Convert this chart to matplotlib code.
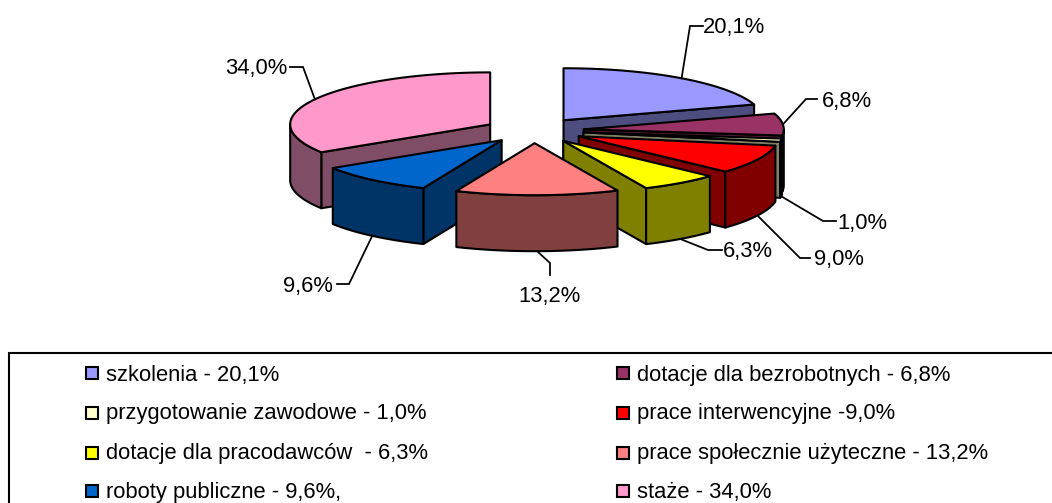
import numpy as np
import matplotlib
matplotlib.use("Agg")
import matplotlib.pyplot as plt
from matplotlib.patches import Polygon, Rectangle

plt.rcParams['font.family'] = ['Liberation Sans', 'DejaVu Sans']

# dane
shares = [20.1, 6.8, 1.0, 9.0, 6.3, 13.2, 9.6, 34.0]
legend_texts = ["szkolenia - 20,1%", "dotacje dla bezrobotnych - 6,8%",
                "przygotowanie zawodowe - 1,0%", "prace interwencyjne -9,0%",
                "dotacje dla pracodawców  - 6,3%", "prace społecznie użyteczne - 13,2%",
                "roboty publiczne - 9,6%,", "staże - 34,0%"]
top_colors = ["#9999FF", "#993366", "#FFFFCC", "#FF0000",
              "#FFFF00", "#FF8080", "#0066CC", "#FF99CC"]
side_colors = ["#4D4D80", "#4D1A33", "#808066", "#800000",
               "#808000", "#804040", "#003366", "#804D66"]

# geometria wykresu (piksele)
cx, cy = 534, 130.5
rx, ry = 200, 52
ex, ey = 50, 12.7
depth = 56
lw = 1.5
font_size = 15.8

# kolanko i koniec linii odniesienia, pozycja etykiety
elbows = [(690, 26), (806, 99), (823, 221), (800, 258), (708, 250), (550, 263), (349, 284), (303, 67)]
ends = [(703, 26), (817, 99), (836, 221), (810, 258), (722, 250), (550, 275), (337, 284), (290, 67)]
label_pos = [(703, 33), (822, 107), (837, 229), (814, 265), (723, 257), (550, 302), (333, 292), (287, 74)]
label_ha = ['left', 'left', 'left', 'left', 'left', 'center', 'right', 'right']

draw_order = [0, 1, 2, 3, 4, 7, 6, 5]

fig = plt.figure(figsize=(10.52, 5.03), dpi=100)
ax = fig.add_axes([0, 0, 1, 1])
ax.set_xlim(0, 1052)
ax.set_ylim(503, 0)
ax.axis('off')

edges = np.cumsum([0] + shares) / sum(shares) * 360


def rim(x0, y0, deg):
    t = np.radians(deg)
    return np.column_stack([x0 + rx * np.sin(t), y0 - ry * np.cos(t)])


centers = []
for i in range(len(shares)):
    mid = np.radians((edges[i] + edges[i + 1]) / 2)
    centers.append((cx + ex * np.sin(mid), cy - ey * np.cos(mid)))

for z, i in enumerate(draw_order):
    a0, a1 = edges[i], edges[i + 1]
    x0, y0 = centers[i]
    style = dict(edgecolor='black', linewidth=lw, joinstyle='round', zorder=2 + z)

    # sciany boczne przy srodku
    for ang, show in ((a0, np.sin(np.radians(a0)) < -1e-6), (a1, np.sin(np.radians(a1)) > 1e-6)):
        if show:
            p = rim(x0, y0, ang)[0]
            ax.add_patch(Polygon([(x0, y0), p, (p[0], p[1] + depth), (x0, y0 + depth)],
                                 facecolor=side_colors[i], **style))

    # sciana zewnetrzna
    w0, w1 = max(a0, 90), min(a1, 270)
    if w1 > w0:
        arc = rim(x0, y0, np.linspace(w0, w1, 40))
        low = arc[::-1] + [0, depth]
        ax.add_patch(Polygon(np.vstack([arc, low]), facecolor=side_colors[i], **style))

    # gora wycinka
    arc = rim(x0, y0, np.linspace(a0, a1, 80))
    ax.add_patch(Polygon(np.vstack([[(x0, y0)], arc]), facecolor=top_colors[i], **style))

# etykiety z liniami
for i, v in enumerate(shares):
    mid = (edges[i] + edges[i + 1]) / 2
    x0, y0 = centers[i]
    s = rim(x0, y0, mid)[0]
    if np.cos(np.radians(mid)) < 0:
        s = s + [0, depth]
    ax.plot([s[0], elbows[i][0], ends[i][0]], [s[1], elbows[i][1], ends[i][1]],
            color='black', lw=lw * 0.85, zorder=20, solid_joinstyle='miter')
    ax.text(label_pos[i][0], label_pos[i][1], f"{v:.1f}".replace('.', ',') + '%',
            fontsize=font_size, ha=label_ha[i], va='baseline', color='black', zorder=21)

# legenda
ax.add_patch(Rectangle((9, 353), 1100, 200, facecolor='white', edgecolor='black', lw=lw))
col_x = [86, 617]
row_y = [373, 413, 453, 491]
row_base = [381, 419, 459, 498]
for i, txt in enumerate(legend_texts):
    lx = col_x[i % 2]
    ax.add_patch(Rectangle((lx, row_y[i // 2] - 6), 12, 12, facecolor=top_colors[i], edgecolor='black', lw=lw))
    ax.text(lx + 20, row_base[i // 2], txt, fontsize=font_size, ha='left', va='baseline', color='black')

fig.savefig('out.png', dpi=100)
